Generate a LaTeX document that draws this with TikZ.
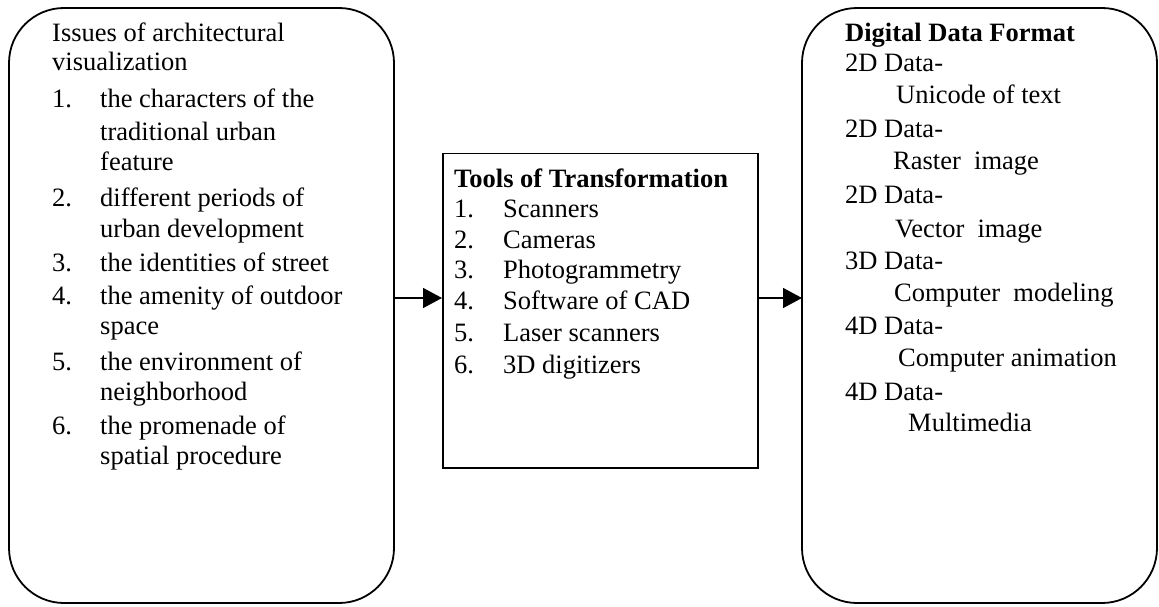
\documentclass[tikz,border=0pt]{standalone}
\usepackage{fontspec}
\setmainfont{Liberation Serif}
\usetikzlibrary{arrows.meta}

\tikzset{
  roundbox/.style={draw, line width=1.8pt, rounded corners=55pt},
  toolbox/.style={draw, line width=1.5pt},
  txt/.style={anchor=base west, inner sep=0pt, font=\fontsize{26.5pt}{30pt}\selectfont},
  btxt/.style={txt, font=\fontsize{26.5pt}{30pt}\selectfont\bfseries},
  flow/.style={line width=1.5pt, -{Triangle[length=19pt, width=20pt]}}
}

\begin{document}
\begin{tikzpicture}[x=1pt, y=-1pt]
  \useasboundingbox (0,0) rectangle (1159,607);

  % the three boxes
  \draw[roundbox] (9,8) rectangle (394,603);
  \node[toolbox, minimum width=315pt, minimum height=314pt, inner sep=0pt, anchor=north west] (tools) at (442,153) {};
  \draw[roundbox] (802,8) rectangle (1157,603);

  % points on the rounded boxes where the connectors start and end
  \coordinate (issuesR) at (394,298);
  \coordinate (formatL) at (802,298);

  % left box: issues
  \node[txt] (i0) at (52,42)  {Issues of architectural};
  \node[txt] (i1) at (52,71)  {visualization};
  \node[txt] (n1) at (52,108) {1.};
  \node[txt] (i2) at (100,108) {the characters of the};
  \node[txt] (i3) at (100,140) {traditional urban};
  \node[txt] (i4) at (100,170) {feature};
  \node[txt] (n2) at (52,206) {2.};
  \node[txt] (i5) at (100,206) {different periods of};
  \node[txt] (i6) at (100,237) {urban development};
  \node[txt] (n3) at (52,271) {3.};
  \node[txt] (i7) at (100,271) {the identities of street};
  \node[txt] (n4) at (52,304) {4.};
  \node[txt] (i8) at (100,304) {the amenity of outdoor};
  \node[txt] (i9) at (100,334) {space};
  \node[txt] (n5) at (52,370) {5.};
  \node[txt] (i10) at (100,370) {the environment of};
  \node[txt] (i11) at (100,400) {neighborhood};
  \node[txt] (n6) at (52,434) {6.};
  \node[txt] (i12) at (100,434) {the promenade of};
  \node[txt] (i13) at (100,464) {spatial procedure};

  % middle box: tools
  \node[btxt] (t0) at (454,187) {Tools of Transformation};
  \node[txt] (m1) at (454,217) {1.};
  \node[txt] (t1) at (503,217) {Scanners};
  \node[txt] (m2) at (454,248) {2.};
  \node[txt] (t2) at (503,248) {Cameras};
  \node[txt] (m3) at (454,278) {3.};
  \node[txt] (t3) at (503,278) {Photogrammetry};
  \node[txt] (m4) at (454,309) {4.};
  \node[txt] (t4) at (503,309) {Software of CAD};
  \node[txt] (m5) at (454,341) {5.};
  \node[txt] (t5) at (503,341) {Laser scanners};
  \node[txt] (m6) at (454,373) {6.};
  \node[txt] (t6) at (503,373) {3D digitizers};

  % right box: data formats
  \node[btxt] (f0) at (845,42) {Digital Data Format};
  \node[txt] (f1) at (845,72)  {2D Data-};
  \node[txt] (f2) at (896,104) {Unicode of text};
  \node[txt] (f3) at (845,138) {2D Data-};
  \node[txt] (f4) at (893,169) {Raster\ \ image};
  \node[txt] (f5) at (845,203) {2D Data-};
  \node[txt] (f6) at (895,237) {Vector\ \ image};
  \node[txt] (f7) at (845,269) {3D Data-};
  \node[txt] (f8) at (894,301) {Computer\ \ modeling};
  \node[txt] (f9) at (845,334) {4D Data-};
  \node[txt] (f10) at (898,366) {Computer animation};
  \node[txt] (f11) at (845,400) {4D Data-};
  \node[txt] (f12) at (908,431) {Multimedia};

  % connectors
  \draw[flow] (issuesR) -- (issuesR -| tools.west);
  \draw[flow] (issuesR -| tools.east) -- (formatL);
\end{tikzpicture}
\end{document}
